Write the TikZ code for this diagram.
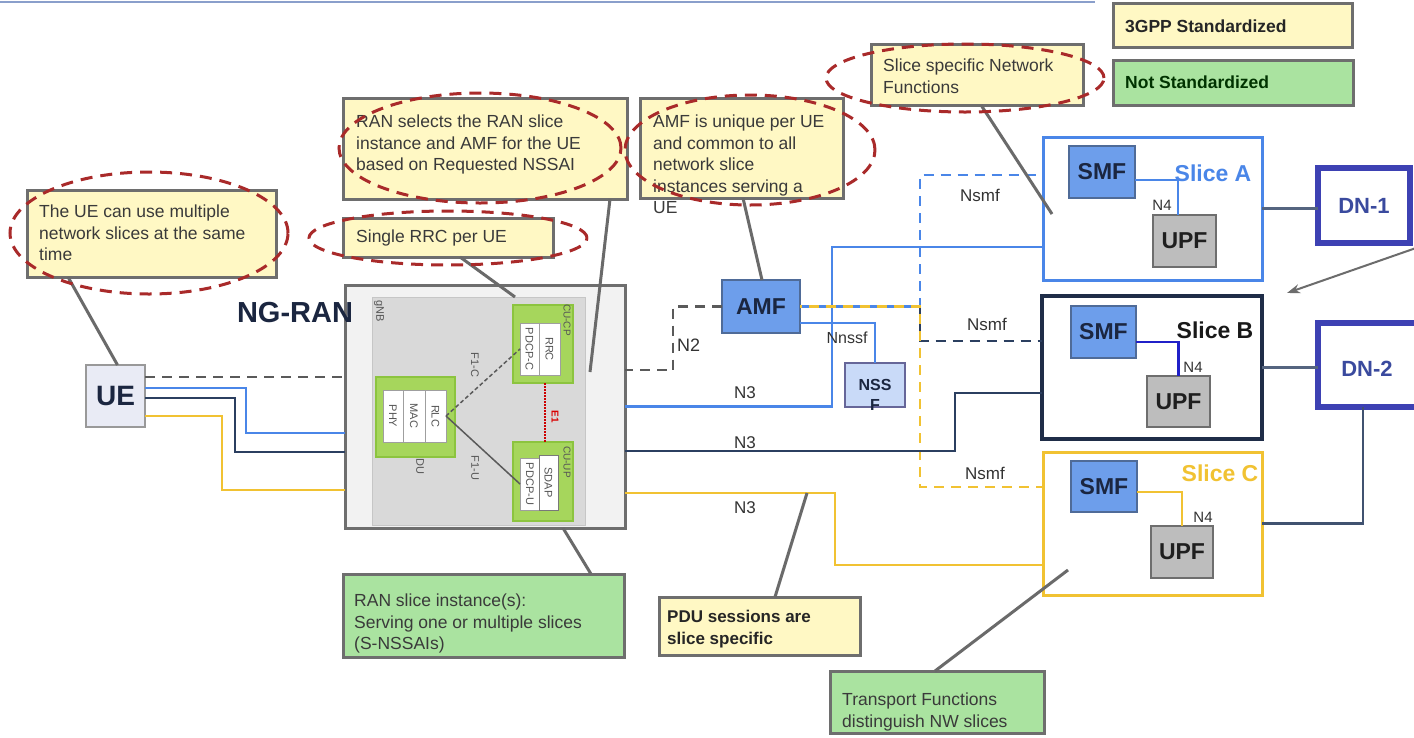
\documentclass[tikz,border=0pt]{standalone}
\usepackage{fontspec}
\setmainfont{Liberation Sans}
\usetikzlibrary{arrows.meta}

\definecolor{calloutyellow}{HTML}{FFF8C4}
\definecolor{calloutgreen}{HTML}{AAE3A0}
\definecolor{bordergray}{HTML}{6E6E6E}
\definecolor{hoopred}{HTML}{A92A2A}
\definecolor{textgray}{HTML}{3A3A3A}
\definecolor{pointergray}{HTML}{6A6A6A}
\definecolor{nfblue}{HTML}{6D9EEB}
\definecolor{nfborder}{HTML}{4F6B98}
\definecolor{nftext}{HTML}{1B2640}
\definecolor{nssffill}{HTML}{C9DAF8}
\definecolor{upfgray}{HTML}{BDBDBD}
\definecolor{upfborder}{HTML}{6E6E6E}
\definecolor{uefill}{HTML}{E9EBF5}
\definecolor{lineblue}{HTML}{4A86E8}
\definecolor{linenavy}{HTML}{2B3F60}
\definecolor{slicenavy}{HTML}{1F2D48}
\definecolor{lineyellow}{HTML}{F1C232}
\definecolor{dnindigo}{HTML}{3D41B3}
\definecolor{dntext}{HTML}{3A4A9E}
\definecolor{nfourblue}{HTML}{2020C8}
\definecolor{ranfill}{HTML}{F2F2F2}
\definecolor{gnbfill}{HTML}{D9D9D9}
\definecolor{cellgreen}{HTML}{A6D65C}
\definecolor{cellgreenborder}{HTML}{8CC43F}
\definecolor{tinygray}{HTML}{555555}
\definecolor{labelgray}{HTML}{333333}
\definecolor{titleblue}{HTML}{8A9FCB}
\definecolor{dashgray}{HTML}{5A5A5A}

\begin{document}
\begin{tikzpicture}[x=1pt,y=-1pt,
  nwbox/.style={anchor=north west, inner sep=0pt, outer sep=0pt},
  wh/.style 2 args={minimum width=#1pt, minimum height=#2pt},
  callY/.style={nwbox, draw=bordergray, line width=3pt, fill=calloutyellow},
  callG/.style={nwbox, draw=bordergray, line width=3pt, fill=calloutgreen},
  ctext/.style={anchor=north west, inner sep=0pt, align=left, text=textgray,
    font=\fontsize{17.5}{21.5}\selectfont},
  btext/.style={anchor=west, inner sep=0pt, text=black!85,
    font=\bfseries\fontsize{17.5}{21.5}\selectfont},
  hoop/.style={draw=hoopred, line width=3pt, dash pattern=on 12pt off 8pt},
  pointer/.style={draw=pointergray, line width=3pt},
  nfbox/.style={nwbox, draw=nfborder, line width=1.5pt, fill=nfblue, text=nftext,
    font=\bfseries\fontsize{23}{25}\selectfont},
  upfbox/.style={nwbox, draw=upfborder, line width=1.5pt, fill=upfgray, text=black!88,
    font=\bfseries\fontsize{23}{25}\selectfont},
  slicelbl/.style={inner sep=0pt, font=\bfseries\fontsize{23}{25}\selectfont},
  lbl/.style={inner sep=0pt, text=labelgray, font=\fontsize{17}{19}\selectfont},
  small/.style={inner sep=0pt, text=labelgray, font=\fontsize{15}{17}\selectfont},
  cell/.style={nwbox, draw=gray!75, line width=1pt, fill=white},
  greencell/.style={nwbox, draw=cellgreenborder, line width=1.5pt, fill=cellgreen},
  tiny/.style={inner sep=0pt, rotate=-90, text=tinygray, font=\fontsize{11}{12}\selectfont},
  core/.style={line width=2.5pt},
  dnbox/.style={nwbox, draw=dnindigo, line width=6pt, fill=white, text=dntext,
    font=\bfseries\fontsize{22}{24}\selectfont},
]
\clip (0,0) rectangle (1414,737);
\fill[white] (0,0) rectangle (1414,737);

% rule along the top edge
\coordinate (tl1) at (0,2);
\coordinate (tl2) at (1095,2);
\draw[titleblue, line width=2.5pt] (tl1) -- (tl2);

% ---------- legend ----------
\node[callY, wh={239}{44}] (leg1) at (1113,3) {};
\node[btext] (leg1t) at (1125,26) {3GPP Standardized};
\node[callG, wh={240}{45}] (leg2) at (1113,60) {};
\node[btext, text=black!80!green] (leg2t) at (1125,82) {Not Standardized};

% ---------- UE ----------
\node[nwbox, wh={59}{62}, draw=gray!80, line width=1.5pt, fill=uefill, text=nftext,
  font=\bfseries\fontsize{28}{30}\selectfont] (ue) at (86,365) {UE};

% ---------- NG-RAN / gNB ----------
\node[nwbox, wh={280}{243}, draw=bordergray, line width=3pt, fill=ranfill] (ngran) at (345,285) {};
\node[font=\bfseries\fontsize{29}{31}\selectfont, text=nftext] (ngranlbl) at (295,313) {NG-RAN};
\node[nwbox, wh={213}{228}, draw=gray!45, line width=1pt, fill=gnbfill] (gnb) at (372,297) {};
\node[tiny] (gnbl) at (379,311) {gNB};

\node[greencell, wh={60}{78}] (cucp) at (513,305) {};
\node[cell, wh={19}{52}] (pdcpc) at (520,323) {};
\node[cell, wh={21}{52}] (rrc) at (539,323) {};
\node[tiny, font=\fontsize{10}{11}\selectfont] (cucpl) at (567,320) {CU-CP};
\node[tiny] (pdcpcl) at (pdcpc) {PDCP-C};
\node[tiny] (rrcl) at (rrc) {RRC};

\node[greencell, wh={79}{80}] (du) at (376,377) {};
\node[cell, wh={20}{52}] (phy) at (383,390) {};
\node[cell, wh={22}{52}] (mac) at (403,390) {};
\node[cell, wh={21}{52}] (rlc) at (425,390) {};
\node[tiny] (phyl) at (phy) {PHY};
\node[tiny] (macl) at (mac) {MAC};
\node[tiny] (rlcl) at (rlc) {RLC};
\node[tiny] (dul) at (420,466) {DU};

\node[greencell, wh={60}{79}] (cuup) at (513,442) {};
\node[cell, wh={20}{52}] (pdcpu) at (520,458) {};
\node[cell, wh={19}{55}, draw=gray!95!black] (sdap) at (539,455) {};
\node[tiny, font=\fontsize{10}{11}\selectfont] (cuupl) at (567,462) {CU-UP};
\node[tiny] (pdcpul) at (pdcpu) {PDCP-U};
\node[tiny] (sdapl) at (sdap) {SDAP};

\draw[dashgray, line width=1.5pt, dash pattern=on 4pt off 2.5pt] (rlc.east) -- (pdcpc.west);
\draw[dashgray, line width=1.5pt] (rlc.east) -- (pdcpu.west);
\draw[red!80!black, line width=2pt, dash pattern=on 1.5pt off 1.5pt] ([xshift=2pt]cucp.south) -- ([xshift=2pt]cuup.north);
\node[tiny] (f1cl) at (475,365) {F1-C};
\node[tiny] (f1ul) at (475,468) {F1-U};
\node[tiny, text=red!85!black, font=\bfseries\fontsize{10}{11}\selectfont] (e1l) at (555,417) {E1};

% ---------- core functions ----------
\node[nfbox, wh={78}{53}] (amf) at (722,280) {AMF};
\node[nwbox, wh={60}{44}, draw=gray!80!blue, line width=1.5pt, fill=nssffill] (nssf) at (845,363) {};
\node[align=center, inner sep=0pt, text=nftext, font=\bfseries\fontsize{16}{20}\selectfont] (nssft) at (875,395) {NSS\\F};

% slices
\node[nwbox, wh={219}{143}, draw=lineblue, line width=3pt, fill=white] (sliceA) at (1043,137) {};
\node[nwbox, wh={220}{143}, draw=slicenavy, line width=3.5pt, fill=white] (sliceB) at (1042,296) {};
\node[nwbox, wh={219}{143}, draw=lineyellow, line width=3pt, fill=white] (sliceC) at (1043,452) {};

\node[nfbox, wh={66}{52}] (smfA) at (1069,146) {SMF};
\node[upfbox, wh={63}{52}] (upfA) at (1153,215) {UPF};
\node[nfbox, wh={65}{52}] (smfB) at (1071,306) {SMF};
\node[upfbox, wh={63}{51}] (upfB) at (1147,376) {UPF};
\node[nfbox, wh={66}{51}] (smfC) at (1071,461) {SMF};
\node[upfbox, wh={62}{52}] (upfC) at (1151,526) {UPF};

\draw[lineblue, line width=2pt] ([yshift=-8pt]smfA.east) -| ([xshift=-6.5pt]upfA.north);
\draw[nfourblue, line width=2.5pt] ([yshift=-10pt]smfB.east) -| (upfB.north);
\draw[lineyellow, line width=2.5pt] ([yshift=-5.5pt]smfC.east) -| (upfC.north);
\node[slicelbl, text=lineblue] (sliceAl) at (1213,173) {Slice A};
\node[slicelbl, text=black!90] (sliceBl) at (1215,330) {Slice B};
\node[slicelbl, text=lineyellow] (sliceCl) at (1220,473) {Slice C};
\node[small] (n4a) at (1162,205) {N4};
\node[small] (n4b) at (1193,367) {N4};
\node[small] (n4c) at (1203,517) {N4};

% data networks
\node[dnbox, wh={92}{75}] (dn1) at (1318,168) {DN-1};
\node[dnbox, wh={100}{84}] (dn2) at (1318,323) {};
\node[inner sep=0pt, text=dntext, font=\bfseries\fontsize{22}{24}\selectfont] (dn2t) at (1367,369) {DN-2};
\draw[linenavy!80, core] (sliceA.east) -- (sliceA.east -| dn1.west);
\draw[linenavy!80, core] (sliceB.east) -- (sliceB.east -| dn2.west);
\draw[linenavy!90, core] ([xshift=-5pt]dn2.south) |- (sliceC.east);

% ---------- UE to NG-RAN ----------
\coordinate (wb1) at (246,433);
\coordinate (wn1) at (235,452);
\coordinate (wy1) at (222,490);
\draw[dashgray, core, dash pattern=on 10pt off 7pt] ([yshift=19pt]ue.east) -- ([yshift=29.5pt]ngran.west);
\draw[lineyellow, core] ([yshift=-20pt]ue.east) -| (wy1) -- (wy1 -| ngran.west);
\draw[linenavy, core] ([yshift=-2pt]ue.east) -| (wn1) -- (wn1 -| ngran.west);
\draw[lineblue, core] ([yshift=8pt]ue.east) -| (wb1) -- (wb1 -| ngran.west);

% ---------- NG-RAN to core / slices ----------
\coordinate (wb2) at (832,247);
\coordinate (wn2) at (955,393);
\coordinate (wy2) at (835,565);
\coordinate (wn3) at (673,370);
\coordinate (ws1) at (920,175);
\coordinate (ws2) at (920,341);
\coordinate (ws3) at (920,487);
\draw[dashgray, core, dash pattern=on 10pt off 7pt] (amf.west) -| (wn3) -- (wn3 -| ngran.east);
\draw[lineblue, core] (ngran.east) -| (wb2) -- (wb2 -| sliceA.west);
\draw[lineblue, core] ([yshift=-16.5pt]amf.east) -| (nssf.north);
\draw[linenavy, core, dash pattern=on 10pt off 7pt] (amf.east) -| (ws2) -- (ws2 -| sliceB.west);
\draw[lineblue, core, dash pattern=on 10pt off 7pt] (amf.east) -| (ws1) -- (ws1 -| sliceA.west);
\draw[lineyellow, core, dash pattern=on 10pt off 7pt, dash phase=8.5pt] (amf.east) -| (ws3) -- (ws3 -| sliceC.west);
\draw[linenavy, core] ([yshift=-44.5pt]ngran.east) -| (wn2) -- (wn2 -| sliceB.west);
\draw[lineyellow, core] ([yshift=-86.5pt]ngran.east) -| (wy2) -- (wy2 -| sliceC.west);

\node[lbl, anchor=west, font=\fontsize{18}{20}\selectfont] (n2l) at (677,345) {N2};
\node[lbl] (n3a) at (745,393) {N3};
\node[lbl] (n3b) at (745,443) {N3};
\node[lbl] (n3c) at (745,508) {N3};
\node[lbl, font=\fontsize{16}{18}\selectfont] (nnssfl) at (847,338) {Nnssf};
\node[lbl] (nsmfa) at (980,195) {Nsmf};
\node[lbl] (nsmfb) at (987,324) {Nsmf};
\node[lbl] (nsmfc) at (985,473) {Nsmf};

% ---------- callouts ----------
\node[callY, wh={249}{87}] (ucall) at (27,190) {};
\node[ctext] (ucallt) at (39,205) {The UE can use multiple\\network slices at the same\\time};

\node[callY, wh={284}{101}] (rancall) at (343,98) {};
\node[ctext] (rancallt) at (356,115) {RAN selects the RAN slice\\instance and AMF for the UE\\based on Requested NSSAI};

\node[callY, wh={210}{39}] (rrccall) at (343,218) {};
\node[ctext] (rrccallt) at (356,230) {Single RRC per UE};

\node[callY, wh={203}{100}] (amfcall) at (640,98) {};
\node[ctext] (amfcallt) at (653,115) {AMF is unique per UE\\and common to all\\network slice\\instances serving a\\UE};

\node[callY, wh={212}{61}] (nfcall) at (871,44) {};
\node[ctext] (nfcallt) at (883,59) {Slice specific Network\\Functions};

\node[callG, wh={281}{83}] (rangreen) at (343,574) {};
\node[ctext] (rangreent) at (354,594) {RAN slice instance(s):\\Serving one or multiple slices\\(S-NSSAIs)};

\node[callY, wh={201}{58}] (pdu) at (659,597) {};
\node[ctext, font=\bfseries\fontsize{17}{22}\selectfont, text=black!85] (pdut) at (667,610) {PDU sessions are\\slice specific};

\node[callG, wh={214}{62}] (tf) at (830,671) {};
\node[ctext] (tft) at (842,693) {Transport Functions\\distinguish NW slices};

% callout pointers
\coordinate (p2) at (515,297);
\coordinate (p3) at (590,372);
\coordinate (p5) at (1052,214);
\coordinate (p7) at (807,493);
\coordinate (p8) at (1068,570);
\draw[pointer] ([xshift=41pt]ucall.south west) -- ([xshift=2pt]ue.north);
\draw[pointer] ([xshift=117pt]rrccall.south west) -- (p2);
\draw[pointer] ([xshift=267pt]rancall.south west) -- (p3);
\draw[pointer] ([xshift=103pt]amfcall.south west) -- ([xshift=1pt]amf.north);
\draw[pointer] ([xshift=110pt]nfcall.south west) -- (p5);
\draw[pointer] ([xshift=248pt]rangreen.north west) -- ([xshift=218pt]ngran.south west);
\draw[pointer] ([xshift=116pt]pdu.north west) -- (p7);
\draw[pointer] ([xshift=105pt]tf.north west) -- (p8);

% dashed hoops around the key statements
\draw[hoop] (149,233) ellipse [x radius=139pt, y radius=61pt];
\draw[hoop] (448,238) ellipse [x radius=139pt, y radius=27pt];
\draw[hoop] (480,148) ellipse [x radius=141pt, y radius=55pt];
\draw[hoop] (750,150) ellipse [x radius=125pt, y radius=55pt];
\draw[hoop] (965,78) ellipse [x radius=139pt, y radius=34pt];

% grey pointer arrow at the right edge
\coordinate (at1) at (1416,248);
\coordinate (at2) at (1287,293);
\draw[gray!85!black, line width=2pt, -{Stealth[length=13pt,width=9pt]}] (at1) -- (at2);
\end{tikzpicture}
\end{document}
